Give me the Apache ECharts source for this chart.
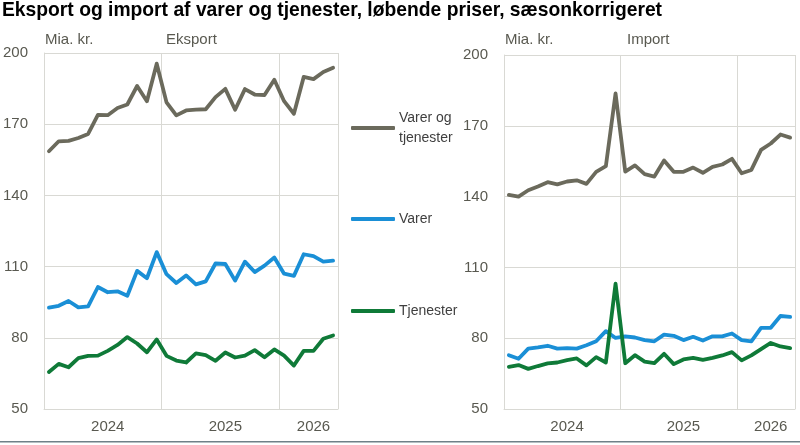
<!DOCTYPE html>
<html>
<head>
<meta charset="utf-8">
<script src="https://cdn.jsdelivr.net/npm/echarts@6/dist/echarts.min.js"></script>
<style>
html,body{margin:0;padding:0;background:#fff;}
#c{width:800px;height:445px;}
</style>
</head>
<body>
<div id="c"></div>
<script>
// 30 monthly observations, Jan 2024 – Jun 2026
const months = [
  '2024-01','2024-02','2024-03','2024-04','2024-05','2024-06','2024-07','2024-08','2024-09','2024-10','2024-11','2024-12',
  '2025-01','2025-02','2025-03','2025-04','2025-05','2025-06','2025-07','2025-08','2025-09','2025-10','2025-11','2025-12',
  '2026-01','2026-02','2026-03','2026-04','2026-05','2026-06'
];
const yearLabels = {6: '2024', 18: '2025', 27: '2026'};
const yTicks = [50, 80, 110, 140, 170, 200];

const eksportTotal = [158.6,162.8,163.0,164.2,165.9,173.9,173.8,176.8,178.3,186.1,179.7,195.5,179.2,173.7,175.8,176.1,176.3,181.4,184.9,176.1,184.8,182.5,182.3,188.7,179.7,174.4,189.9,189.0,192.0,193.8];
const eksportVarer = [92.7,93.5,95.5,92.8,93.2,101.4,99.2,99.6,97.7,108.2,105.1,116.1,106.8,103.1,106.3,102.5,103.8,111.3,111.1,104.1,112.1,107.7,110.4,113.8,107.0,106.1,115.2,114.4,112.1,112.5];
const eksportTjenester = [65.6,69.0,67.6,71.4,72.4,72.5,74.5,77.0,80.3,77.6,73.9,79.3,72.4,70.4,69.6,73.4,72.7,70.3,73.8,71.7,72.5,74.8,71.8,75.1,72.5,68.3,74.5,74.5,79.6,81.0];

const importTotal = [140.7,140.0,142.7,144.3,146.1,145.2,146.4,146.9,145.4,150.5,152.9,183.7,150.6,153.2,149.5,148.5,155.3,150.5,150.5,152.3,150.1,152.6,153.6,156.0,149.9,151.3,159.8,162.5,166.3,165.0];
const importVarer = [72.8,71.3,75.6,76.1,76.8,75.6,75.8,75.6,77.0,78.7,83.0,80.1,80.8,80.3,79.2,78.7,81.5,81.0,79.2,80.6,79.0,80.8,80.8,82.0,79.2,78.7,84.4,84.4,89.4,89.0];
const importTjenester = [67.9,68.6,67.0,68.2,69.3,69.7,70.7,71.4,68.5,72.0,69.7,103.1,69.4,72.8,70.1,69.4,73.4,69.0,71.0,71.7,70.8,71.7,72.7,74.1,70.6,72.7,75.4,78.0,76.5,75.8];

const seriesNames = ['Varer og tjenester', 'Varer', 'Tjenester'];
const colors = ['#6b6a5c', '#1a8fd6', '#0f7a38'];

const axisFont = 'Liberation Sans, Arial, sans-serif';
const axisSize = 15;
const labelColor = '#595950';
const gridColor = '#d9d9d4';

function xAxis(gridIndex) {
  return {
    type: 'category', gridIndex, data: months, boundaryGap: true,
    axisLine: {show: true, lineStyle: {color: gridColor, width: 1}},
    axisTick: {show: false},
    axisLabel: {
      interval: 0, margin: 10, color: labelColor, fontFamily: axisFont, fontSize: axisSize,
      formatter: (v, i) => yearLabels[i] || ''
    },
    splitLine: {show: true, interval: (i) => i === 12 || i === 24, lineStyle: {color: gridColor, width: 1}}
  };
}
function yAxis(gridIndex) {
  return {
    type: 'value', gridIndex, min: yTicks[0], max: yTicks[yTicks.length - 1], interval: 30,
    axisLine: {show: true, lineStyle: {color: gridColor, width: 1}},
    axisTick: {show: false},
    axisLabel: {margin: 16, color: labelColor, fontFamily: axisFont, fontSize: axisSize},
    splitLine: {show: true, lineStyle: {color: gridColor, width: 1}}
  };
}
function line(name, data, idx, color) {
  return {
    name, type: 'line', data, xAxisIndex: idx, yAxisIndex: idx,
    symbol: 'none', smooth: false, color,
    lineStyle: {width: 3.8, color, cap: 'round', join: 'round'},
    emphasis: {disabled: true}, animation: false
  };
}
function legend(name, top, extra) {
  return Object.assign({
    data: [name], left: 351, top, padding: 0, orient: 'vertical',
    icon: 'roundRect', itemWidth: 44, itemHeight: 4, itemGap: 0,
    selectedMode: false,
    textStyle: {fontFamily: 'Liberation Sans, Arial, sans-serif', fontSize: 14, color: '#3f3f3f', lineHeight: 20, padding: [0, 0, 0, -1]}
  }, extra || {});
}

const subStyle = {fontFamily: axisFont, fontSize: axisSize, fontWeight: 'normal', color: labelColor};

const chart = echarts.init(document.getElementById('c'), null, {renderer: 'canvas'});
chart.setOption({
  backgroundColor: '#fff',
  animation: false,
  title: [
    {text: 'Eksport og import af varer og tjenester, løbende priser, sæsonkorrigeret', left: 2, top: 1, padding: 0,
      textStyle: {fontFamily: 'Liberation Sans, Arial, sans-serif', fontWeight: 'bold', fontSize: 19.3, color: '#000'}},
    {text: 'Mia. kr.', left: 45, top: 32, padding: 0, textStyle: subStyle},
    {text: 'Eksport', left: 166, top: 32, padding: 0, textStyle: subStyle},
    {text: 'Mia. kr.', left: 505, top: 32, padding: 0, textStyle: subStyle},
    {text: 'Import', left: 627, top: 32, padding: 0, textStyle: subStyle}
  ],
  legend: [
    legend(seriesNames[0], 98, {formatter: () => 'Varer og\ntjenester', textStyle: {fontFamily: 'Liberation Sans, Arial, sans-serif', fontSize: 14, color: '#3f3f3f', lineHeight: 20, padding: [20, 0, 0, -1]}}),
    legend(seriesNames[1], 209),
    legend(seriesNames[2], 301)
  ],
  grid: [
    {left: 42, right: 462, top: 53, bottom: 36},
    {left: 504, right: 5, top: 55, bottom: 36}
  ],
  xAxis: [xAxis(0), xAxis(1)],
  yAxis: [yAxis(0), yAxis(1)],
  series: [
    line(seriesNames[0], eksportTotal, 0, colors[0]),
    line(seriesNames[1], eksportVarer, 0, colors[1]),
    line(seriesNames[2], eksportTjenester, 0, colors[2]),
    line(seriesNames[0], importTotal, 1, colors[0]),
    line(seriesNames[1], importVarer, 1, colors[1]),
    line(seriesNames[2], importTjenester, 1, colors[2])
  ],
  graphic: [
    {type: 'rect', left: 0, top: 441, shape: {width: 800, height: 1.5}, style: {fill: '#6f8088'}, silent: true}
  ]
});
</script>
</body>
</html>
